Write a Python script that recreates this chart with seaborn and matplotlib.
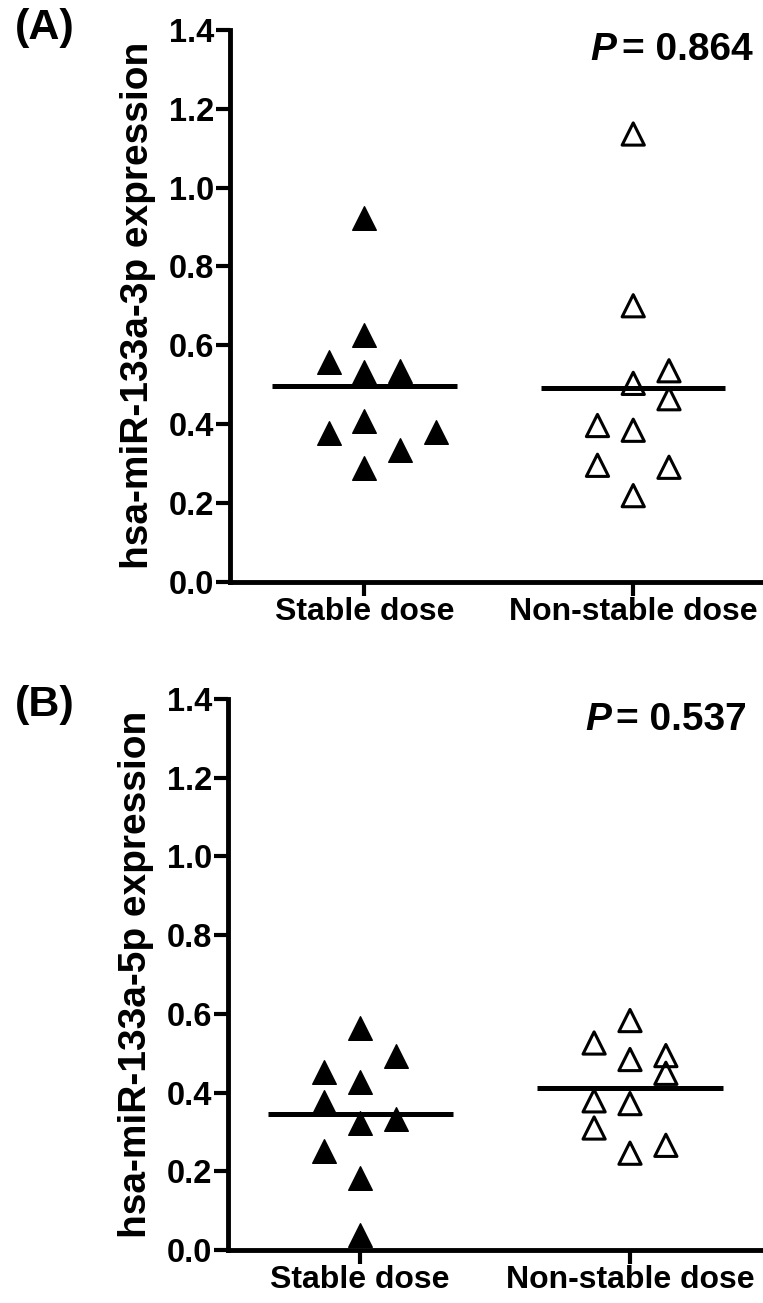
import numpy as np
import pandas as pd
import matplotlib
matplotlib.use("Agg")
import matplotlib.pyplot as plt
from matplotlib import font_manager as fm
import seaborn as sns

# ---------------- data ----------------
categories = ["Stable dose", "Non-stable dose"]

a_stable = [0.923, 0.626, 0.556, 0.533, 0.534, 0.377, 0.408, 0.380, 0.335, 0.289]
a_stable_cols = [0, 0, -1, 0, 1, -1, 0, 2, 1, 0]
a_nonstable = [1.136, 0.700, 0.535, 0.503, 0.464, 0.396, 0.384, 0.295, 0.290, 0.218]
a_nonstable_cols = [0, 0, 1, 0, 1, -1, 0, -1, 1, 0]

b_stable = [0.565, 0.494, 0.453, 0.428, 0.377, 0.322, 0.332, 0.252, 0.184, 0.039]
b_stable_cols = [0, 1, -1, 0, -1, 0, 1, -1, 0, 0]
b_nonstable = [0.583, 0.526, 0.484, 0.494, 0.449, 0.379, 0.372, 0.310, 0.266, 0.246]
b_nonstable_cols = [0, -1, 0, 1, 1, -1, 0, -1, 1, 0]

ylabels = ["hsa-miR-133a-3p expression", "hsa-miR-133a-5p expression"]
p_values = ["0.864", "0.537"]
panel_tags = ["(A)", "(B)"]
yticks = [0.0, 0.2, 0.4, 0.6, 0.8, 1.0, 1.2, 1.4]

# ---------------- style ----------------
sns.set_style("ticks")
names = {f.name for f in fm.fontManager.ttflist}
base_font = "Liberation Sans" if "Liberation Sans" in names else "DejaVu Sans"
narrow_font = "Liberation Sans Narrow" if "Liberation Sans Narrow" in names else base_font
ytick_fs = 27 if narrow_font != base_font else 23.5
xtick_fs = 28 if narrow_font != base_font else 23
plt.rcParams["font.family"] = [base_font, "DejaVu Sans"]
for k in ["text.color", "axes.labelcolor", "xtick.color", "ytick.color", "axes.edgecolor"]:
    plt.rcParams[k] = "black"

W, H = 763, 1303
fig = plt.figure(figsize=(W / 100, H / 100), dpi=100)
axA = fig.add_axes([230 / W, 1 - 581.5 / H, 532 / W, 551.5 / H])
axB = fig.add_axes([228 / W, 1 - 1250 / H, 535 / W, 551 / H])

slot = 0.133
half = 0.343

panels = [
    (axA, a_stable, a_stable_cols, a_nonstable, a_nonstable_cols, (-0.5, 1.479), 1.445, 1.325),
    (axB, b_stable, b_stable_cols, b_nonstable, b_nonstable_cols, (-0.49, 1.493), 1.434, 1.321),
]

for i, (ax, sv, sc, nv, nc, xlim, px, py) in enumerate(panels):
    df_s = pd.DataFrame({"x": 0 + np.array(sc) * slot, "value": sv})
    df_n = pd.DataFrame({"x": 1 + np.array(nc) * slot, "value": nv})
    sns.scatterplot(data=df_s, x="x", y="value", ax=ax, marker="^", s=17 ** 2,
                    color="black", edgecolor="black", linewidth=1, zorder=2)
    sns.scatterplot(data=df_n, x="x", y="value", ax=ax, marker="^", s=16 ** 2,
                    facecolor="none", edgecolor="black", linewidth=2.2, zorder=2)
    for j, vals in enumerate([sv, nv]):
        m = np.mean(vals)
        ax.hlines(m, j - half, j + half, colors="black", linewidth=3.6, zorder=3)

    ax.set_xlim(*xlim)
    ax.set_ylim(0, 1.4)
    ax.set_yticks(yticks)
    ax.set_yticklabels([f"{t:.1f}" for t in yticks], fontsize=ytick_fs,
                       fontweight="bold", family=[narrow_font, "DejaVu Sans"])
    ax.set_xticks([0, 1])
    ax.set_xticklabels(categories, fontsize=xtick_fs, fontweight="bold",
                       family=[narrow_font, "DejaVu Sans"])
    ax.set_xlabel("")
    ax.set_ylabel(ylabels[i], fontsize=28, fontweight="bold", labelpad=9)
    sns.despine(ax=ax)
    for s in ["left", "bottom"]:
        ax.spines[s].set_linewidth(3.5)
        ax.spines[s].set_color("black")
    ax.tick_params(axis="both", direction="out", length=10, width=3, color="black",
                   labelcolor="black")
    ax.tick_params(axis="y", pad=1.5)
    ax.tick_params(axis="x", pad=1)
    ax.set_facecolor("white")

    num = ax.text(px, py, "= " + p_values[i], ha="right", va="baseline",
                  fontsize=28, fontweight="bold", color="black")
    ax.annotate("P", xy=(0, 0), xycoords=num, xytext=(-4, 0), textcoords="offset points",
                ha="right", va="bottom", fontsize=28, fontweight="bold", fontstyle="italic",
                color="black")

fig.text(15 / W, 1 - 28 / H, panel_tags[0], ha="left", va="center", fontsize=31,
         fontweight="bold", color="black")
fig.text(15 / W, 1 - 705 / H, panel_tags[1], ha="left", va="center", fontsize=31,
         fontweight="bold", color="black")

fig.savefig("out.png", dpi=100, facecolor="white")
